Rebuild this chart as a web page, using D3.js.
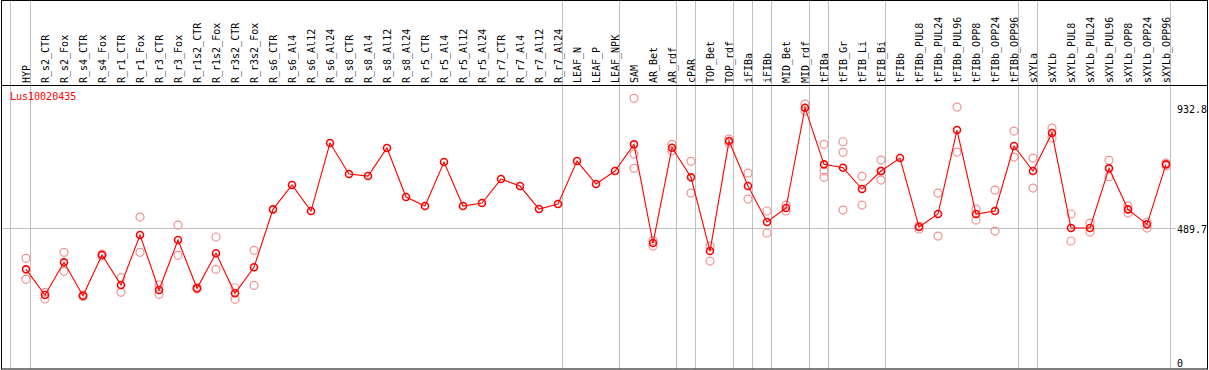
<!DOCTYPE html>
<html>
<head>
<meta charset="utf-8">
<script src="https://cdn.jsdelivr.net/npm/d3@7"></script>
<style>
  body { margin: 0; background: #fff; }
  text { font-family: "DejaVu Sans Mono", monospace; font-size: 10px; }
</style>
</head>
<body>
<script>
var geneName = "Lus10020435";

var categories = ["HYP", "R_s2_CTR", "R_s2_Fox", "R_s4_CTR", "R_s4_Fox", "R_r1_CTR", "R_r1_Fox",
    "R_r3_CTR", "R_r3_Fox", "R_r1s2_CTR", "R_r1s2_Fox", "R_r3s2_CTR", "R_r3s2_Fox",
    "R_s6_CTR", "R_s6_Al4", "R_s6_Al12", "R_s6_Al24", "R_s8_CTR", "R_s8_Al4", "R_s8_Al12", "R_s8_Al24",
    "R_r5_CTR", "R_r5_Al4", "R_r5_Al12", "R_r5_Al24", "R_r7_CTR", "R_r7_Al4", "R_r7_Al12", "R_r7_Al24",
    "LEAF_N", "LEAF_P", "LEAF_NPK", "SAM", "AR_Bet", "AR_rdf", "cPAR", "TOP_Bet", "TOP_rdf",
    "iFIBa", "iFIBb", "MID_Bet", "MID_rdf", "tFIBa", "tFIB_Gr", "tFIB_Li", "tFIB_Bi", "tFIBb",
    "tFIBb_PUL8", "tFIBb_PUL24", "tFIBb_PUL96", "tFIBb_OPP8", "tFIBb_OPP24", "tFIBb_OPP96",
    "sXYLa", "sXYLb", "sXYLb_PUL8", "sXYLb_PUL24", "sXYLb_PUL96", "sXYLb_OPP8", "sXYLb_OPP24", "sXYLb_OPP96"];

// mean expression per sample
var means = [339.0, 244.6, 364.7, 242.1, 391.6, 281.4, 465.0, 263.0, 446.7, 269.2, 397.8, 250.9, 346.4,
    559.4, 648.7, 553.2, 802.9, 689.1, 681.7, 784.6, 604.6,
    571.5, 733.2, 571.5, 582.6, 670.7, 645.0, 560.5, 578.9,
    736.8, 652.3, 700.1, 798.2, 435.6, 785.7, 677.0, 406.2, 810.3,
    645.0, 512.8, 564.2, 932.8, 724.7, 712.2, 634.0, 700.1, 747.8,
    494.4, 542.2, 850.7, 542.2, 553.2, 791.9,
    700.1, 839.7, 490.7, 490.7, 710.0, 559.4, 504.3, 724.7];

// individual replicates (empty where only one sample)
var replicates = [[379.4, 302.3], [254.5, 229.9], [401.5, 331.7], [244.6, 239.1], [395.2, 387.9],
    [308.2, 254.5], [531.1, 401.5], [281.4, 247.2], [501.7, 390.5], [272.2, 266.7], [457.7, 339.0],
    [271.4, 228.8], [408.8, 280.3],
    [], [], [], [], [], [], [], [], [], [], [], [], [], [], [], [],
    [], [], [],
    [967.1, 762.5, 710.0], [444.8, 424.6], [798.2, 774.7], [735.7, 619.3], [369.5, 424.6], [817.6, 803.0],
    [692.7, 597.2], [553.2, 472.4], [575.2, 553.2], [946.2, 920.5],
    [798.2, 700.1, 677.0], [807.7, 768.8, 556.8], [680.6, 575.2], [740.5, 700.1, 667.0], [],
    [487.1, 498.0], [619.3, 461.3], [935.2, 769.9], [560.5, 520.1], [630.3, 479.7], [847.0, 751.5],
    [747.8, 637.6], [858.0, 821.3], [542.2, 443.0], [509.1, 476.0], [739.4, 679.2],
    [571.5, 545.8], [512.8, 490.7], [729.5, 718.4]];

// last sample of each group (a gray separator follows it)
var groupEnds = ["HYP", "R_r7_Al24", "LEAF_NPK", "AR_rdf", "cPAR", "TOP_rdf", "iFIBa", "iFIBb",
    "MID_rdf", "tFIBa", "tFIB_Bi", "tFIBb_OPP96", "sXYLa", "sXYLb_OPP96"];

var yTicks = [0, 489.7, 932.8];
var gridValue = 489.7;

var width = 1209, height = 370;

var x = d3.scaleBand().domain(categories).range([11, 1170]).padding(0);
var y = d3.scaleLinear().domain([0, 932.8]).range([361.6, 107.7]);

function px(d) { return x(d) + 15; }

var svg = d3.select("body").append("svg")
    .attr("width", width)
    .attr("height", height);

// group separators
svg.append("line")
    .attr("x1", 10.5).attr("x2", 10.5)
    .attr("y1", 0).attr("y2", 369)
    .attr("stroke", "#c0c0c0");

svg.selectAll(".sep")
    .data(groupEnds)
  .enter().append("line")
    .attr("class", "sep")
    .attr("x1", function(d) { return Math.round(x(d) + x.bandwidth()) + 0.5; })
    .attr("x2", function(d) { return Math.round(x(d) + x.bandwidth()) + 0.5; })
    .attr("y1", 0).attr("y2", 369)
    .attr("stroke", "#c0c0c0");

// grid line
svg.append("line")
    .attr("x1", 2).attr("x2", 1176)
    .attr("y1", Math.round(y(gridValue)) + 0.5)
    .attr("y2", Math.round(y(gridValue)) + 0.5)
    .attr("stroke", "#c0c0c0");

// frame
svg.append("rect")
    .attr("x", 1.5).attr("y", 0.5)
    .attr("width", 1206).attr("height", 368.5)
    .attr("fill", "none")
    .attr("stroke", "#000");

svg.append("line")
    .attr("x1", 1.5).attr("x2", 1207.5)
    .attr("y1", 85.5).attr("y2", 85.5)
    .attr("stroke", "#000");

// sample labels
svg.selectAll(".lab")
    .data(categories)
  .enter().append("text")
    .attr("class", "lab")
    .attr("transform", function(d) { return "translate(" + Math.round(px(d) + 4) + ",83) rotate(-90)"; })
    .attr("fill", "#000")
    .text(function(d) { return d; });

// y labels on the right
svg.selectAll(".ytick")
    .data(yTicks)
  .enter().append("text")
    .attr("class", "ytick")
    .attr("x", 1177)
    .attr("y", function(d) { return Math.min(y(d) + 5, 366.5); })
    .text(function(d) { return d === 0 ? "0" : d3.format(".1f")(d); });

svg.append("text")
    .attr("x", 10)
    .attr("y", 100)
    .attr("fill", "#ff0000")
    .text(geneName);

// replicate circles
var reps = [];
categories.forEach(function(c, i) {
    replicates[i].forEach(function(v) { reps.push({cat: c, value: v}); });
});

svg.selectAll(".rep")
    .data(reps)
  .enter().append("circle")
    .attr("class", "rep")
    .attr("cx", function(d) { return px(d.cat); })
    .attr("cy", function(d) { return y(d.value); })
    .attr("r", 4)
    .attr("fill", "none")
    .attr("stroke", "#ef9292")
    .attr("stroke-width", 1.2);

var meanData = categories.map(function(c, i) { return {cat: c, value: means[i]}; });

var valueline = d3.line()
    .x(function(d) { return px(d.cat); })
    .y(function(d) { return y(d.value); });

svg.append("path")
    .datum(meanData)
    .attr("d", valueline)
    .attr("fill", "none")
    .attr("stroke", "#ff0000")
    .attr("stroke-width", 1.1);

svg.selectAll(".mean")
    .data(meanData)
  .enter().append("circle")
    .attr("class", "mean")
    .attr("cx", function(d) { return px(d.cat); })
    .attr("cy", function(d) { return y(d.value); })
    .attr("r", 3.5)
    .attr("fill", "none")
    .attr("stroke", "#ff0000")
    .attr("stroke-width", 1.6);
</script>
</body>
</html>
